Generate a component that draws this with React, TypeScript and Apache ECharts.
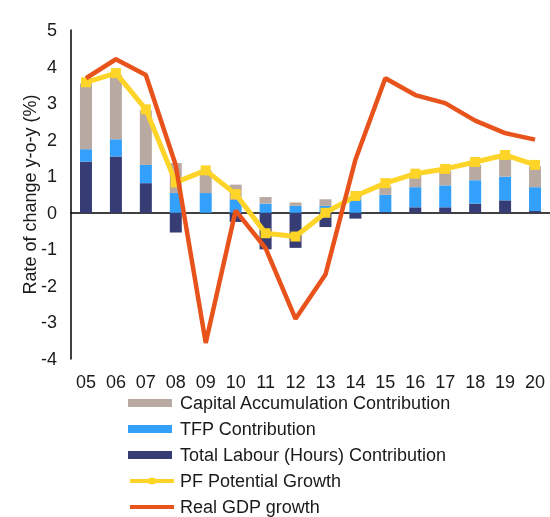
import React, { useEffect, useRef } from "react";
import * as echarts from "echarts";

const years = ["05", "06", "07", "08", "09", "10", "11", "12", "13", "14", "15", "16", "17", "18", "19", "20"];
const labour = [1.40, 1.54, 0.81, -0.54, 0.0, -0.25, -1.0, -0.96, -0.39, -0.16, 0.02, 0.15, 0.15, 0.25, 0.34, 0.05];
const tfp = [0.34, 0.47, 0.50, 0.54, 0.54, 0.35, 0.25, 0.19, 0.19, 0.36, 0.47, 0.55, 0.60, 0.64, 0.65, 0.65];
const capital = [1.80, 1.76, 1.49, 0.82, 0.62, 0.42, 0.18, 0.09, 0.18, 0.10, 0.23, 0.34, 0.40, 0.42, 0.48, 0.57];
const pfPotential = [3.57, 3.82, 2.83, 0.83, 1.16, 0.51, -0.56, -0.65, 0.0, 0.46, 0.81, 1.07, 1.20, 1.39, 1.58, 1.31];
const realGdp = [3.68, 4.2, 3.77, 1.3, -3.56, 0.06, -0.97, -2.9, -1.69, 1.45, 3.68, 3.22, 3.0, 2.52, 2.18, 2.0];

const FONT = "'Liberation Sans', Arial, sans-serif";
const TXT = "#1a1a1a";
const C_LAB = "#363C74";
const C_TFP = "#33A1FB";
const C_CAP = "#B8A9A2";
const C_PF = "#FDD427";
const C_GDP = "#E8531C";

const legendBase = {
  orient: "vertical",
  left: 128,
  padding: 0,
  itemWidth: 44,
  itemHeight: 8,
  itemGap: 8,
};

export default function App() {
  const ref = useRef<HTMLDivElement>(null);
  useEffect(() => {
    if (!ref.current) return;
    const chart = echarts.init(ref.current, null, { renderer: "svg" });
    chart.setOption({
      animation: false,
      textStyle: { fontFamily: FONT },
      grid: { left: 71, top: 30, width: 481, height: 329 },
      legend: [
        {
          ...legendBase,
          top: 394,
          textStyle: { fontSize: 18, color: TXT, fontFamily: FONT, padding: [0, 0, 0, 3] },
          data: [
            { name: "Capital Accumulation Contribution", icon: "rect" },
            { name: "TFP Contribution", icon: "rect" },
            { name: "Total Labour (Hours) Contribution", icon: "rect" },
          ],
        },
        {
          ...legendBase,
          top: 472,
          textStyle: { fontSize: 18, color: TXT, fontFamily: FONT, padding: [0, 0, 0, 1] },
          data: [
            { name: "PF Potential Growth", lineStyle: { width: 4 } },
            { name: "Real GDP growth", lineStyle: { width: 4 }, itemStyle: { opacity: 0 } },
          ],
        },
      ],
      xAxis: [
        {
          type: "category",
          data: years,
          axisLine: { onZero: true, lineStyle: { color: "#000", width: 1.5 } },
          axisTick: { show: false },
          axisLabel: { show: false },
          splitLine: { show: false },
        },
        {
          type: "category",
          data: years,
          position: "bottom",
          axisLine: { show: false, onZero: false },
          axisTick: { show: false },
          axisLabel: { fontSize: 18, color: TXT, margin: 14, fontFamily: FONT },
          splitLine: { show: false },
        },
      ],
      yAxis: {
        type: "value",
        min: -4,
        max: 5,
        interval: 1,
        name: "Rate of change y-o-y (%)",
        nameLocation: "middle",
        nameGap: 32,
        nameMoveOverlap: false,
        nameRotate: 90,
        nameTextStyle: { fontSize: 18, color: TXT, fontFamily: FONT },
        axisLine: { show: true, lineStyle: { color: "#000", width: 1.5 } },
        axisTick: { show: false },
        axisLabel: { fontSize: 18, color: TXT, margin: 14, fontFamily: FONT },
        splitLine: { show: false },
      },
      series: [
        {
          name: "Total Labour (Hours) Contribution",
          type: "bar",
          stack: "total",
          data: labour,
          barWidth: 12,
          itemStyle: { color: C_LAB },
        },
        {
          name: "TFP Contribution",
          type: "bar",
          stack: "total",
          data: tfp,
          barWidth: 12,
          itemStyle: { color: C_TFP },
        },
        {
          name: "Capital Accumulation Contribution",
          type: "bar",
          stack: "total",
          data: capital,
          barWidth: 12,
          itemStyle: { color: C_CAP },
        },
        {
          name: "PF Potential Growth",
          type: "line",
          data: pfPotential,
          symbol: "rect",
          symbolSize: 10,
          lineStyle: { color: C_PF, width: 5 },
          itemStyle: { color: C_PF },
          z: 3,
        },
        {
          name: "Real GDP growth",
          type: "line",
          data: realGdp,
          symbol: "none",
          lineStyle: { color: C_GDP, width: 4.5 },
          itemStyle: { color: C_GDP },
          z: 4,
        },
      ],
    });
    return () => chart.dispose();
  }, []);
  return <div ref={ref} style={{ position: "fixed", left: 0, top: 0, width: 550, height: 517 }} />;
}
